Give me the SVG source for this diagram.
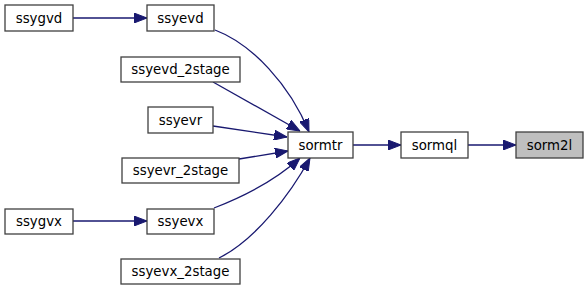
<svg xmlns="http://www.w3.org/2000/svg" width="588" height="291" viewBox="0 0 588 291">
  <style>
    .node rect { fill: #ffffff; stroke: #404040; stroke-width: 1.3; }
    .node.current rect { fill: #bfbfbf; }
    .node text { font-family: "DejaVu Sans", "Liberation Sans", sans-serif; font-size: 13.33px; fill: #000000; text-anchor: middle; }
    .edge { fill: none; stroke: #191970; stroke-width: 1.3; marker-end: url(#arrow); }
  </style>
  <defs>
    <marker id="arrow" markerUnits="userSpaceOnUse" viewBox="0 0 13 10" refX="13" refY="5" markerWidth="13" markerHeight="10" orient="auto">
      <path d="M0,0 L13,5 L0,10 z" fill="#191970" stroke="#191970" stroke-width="1"/>
    </marker>
  </defs>
  <rect width="588" height="291" fill="#ffffff"/>

  <g id="edges">
    <path class="edge" d="M73,18 L147,18"/>
    <path class="edge" d="M215,30 C252,44 290,85 309,132"/>
    <path class="edge" d="M213,82 L300,131"/>
    <path class="edge" d="M213,126 L287,137"/>
    <path class="edge" d="M239,159 L288,151"/>
    <path class="edge" d="M73,221 L147,221"/>
    <path class="edge" d="M214,208 C245,196 278,178 300,158"/>
    <path class="edge" d="M219,258 C255,240 290,195 310,158"/>
    <path class="edge" d="M353,145 L401,145"/>
    <path class="edge" d="M468,145 L516,145"/>
  </g>

  <g id="ssygvd" class="node"><rect x="5" y="5" width="68" height="26"/><text x="39" y="22.5">ssygvd</text></g>
  <g id="ssyevd" class="node"><rect x="147" y="5" width="67" height="26"/><text x="180.5" y="22.5">ssyevd</text></g>
  <g id="ssyevd_2stage" class="node"><rect x="121" y="57" width="119" height="25"/><text x="180.5" y="74">ssyevd_2stage</text></g>
  <g id="ssyevr" class="node"><rect x="148" y="107" width="65" height="26"/><text x="180.5" y="124.5">ssyevr</text></g>
  <g id="ssyevr_2stage" class="node"><rect x="122" y="158" width="117" height="25"/><text x="180.5" y="175">ssyevr_2stage</text></g>
  <g id="ssygvx" class="node"><rect x="5" y="209" width="68" height="25"/><text x="39" y="226">ssygvx</text></g>
  <g id="ssyevx" class="node"><rect x="147" y="209" width="67" height="25"/><text x="180.5" y="226">ssyevx</text></g>
  <g id="ssyevx_2stage" class="node"><rect x="121" y="259" width="119" height="25"/><text x="180.5" y="276">ssyevx_2stage</text></g>
  <g id="sormtr" class="node"><rect x="288" y="132" width="65" height="26"/><text x="320.5" y="149.5">sormtr</text></g>
  <g id="sormql" class="node"><rect x="401" y="132" width="67" height="26"/><text x="434.5" y="149.5">sormql</text></g>
  <g id="sorm2l" class="node current"><rect x="516" y="132" width="67" height="26"/><text x="549.5" y="149.5">sorm2l</text></g>
</svg>
